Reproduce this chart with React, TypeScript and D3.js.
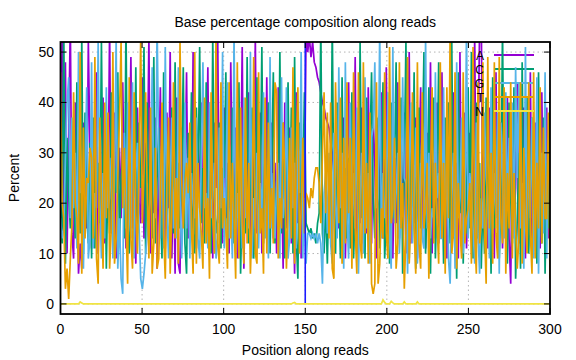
import React from "react";
import * as d3 from "d3";

// Base composition (percent) per read position
const A = [
  22,54,18,48,10,34,56,14,9,40,
  28,6,12,7,36,24,15,52,30,11,
  33,19,46,10,27,16,41,12,25,20,
  55,14,26,38,9,21,31,17,44,23,
  11,35,27,49,15,29,8,39,20,16,
  45,13,32,24,53,10,26,18,37,7,
  25,43,15,28,11,38,19,50,9,27,
  6,41,8,6,35,17,24,46,13,30,
  15,50,22,11,33,19,40,12,26,21,
  47,14,29,9,36,23,54,16,25,12,
  39,17,28,10,48,22,14,35,9,31,
  24,51,7,26,16,42,12,30,20,53,
  14,27,38,10,32,17,45,12,23,36,
  13,28,10,43,18,25,7,40,15,29,
  35,12,24,6,42,16,28,9,33,21,
  54,50,53,49,52,48,47,45,44,42,
  40,39,37,36,35,32,30,26,22,18,
  15,28,11,37,9,25,44,14,32,18,
  49,10,27,16,39,12,30,14,43,21,
  12,37,28,9,33,16,42,13,25,47,
  12,23,36,9,29,16,44,13,27,18,
  38,10,25,50,12,30,16,37,9,27,
  43,14,25,11,34,16,48,10,28,13,
  40,12,24,46,15,33,9,36,22,14,
  42,16,28,9,50,14,27,38,11,24,
  34,13,21,53,12,29,55,58,15,35,
  26,11,39,14,29,9,46,15,24,36,
  11,27,15,41,13,4,33,16,23,44,
  12,27,14,39,9,29,16,46,11,25,
  36,13,28,11,42,15,23,39,13,26,
];

const C = [
  20,12,55,8,33,22,15,31,24,13,
  44,27,14,53,10,38,18,12,32,9,
  37,11,24,28,16,52,19,33,7,26,
  14,42,16,27,22,46,12,25,29,13,
  56,15,10,21,31,18,47,14,36,23,
  29,51,10,40,16,28,13,49,12,25,
  35,19,9,46,21,15,33,11,39,14,
  48,18,28,15,26,47,12,6,34,21,
  42,14,10,39,23,51,16,27,12,44,
  17,33,10,53,21,14,17,36,11,27,
  25,46,10,30,15,39,12,28,17,44,
  6,21,36,14,49,12,25,39,9,17,
  45,15,23,51,12,29,19,40,10,27,
  46,12,23,15,50,14,36,9,29,44,
  15,39,10,49,13,5,36,19,23,42,
  16,15,14,15,13,14,12,16,18,56,
  14,10,20,8,24,14,56,18,10,40,
  23,9,45,15,27,13,29,11,42,9,
  19,36,13,52,17,26,9,41,15,30,
  46,21,13,26,37,11,23,44,9,17,
  32,8,40,17,26,48,13,23,41,6,
  28,52,15,9,34,18,46,7,26,39,
  15,30,50,10,21,43,6,28,41,9,
  23,48,13,28,8,37,17,40,12,52,
  13,26,5,46,18,34,8,30,14,43,
  15,50,9,23,40,13,28,7,21,10,
  41,17,30,6,45,15,23,34,9,19,
  55,15,29,8,40,21,12,43,5,17,
  30,7,48,15,25,41,10,23,37,16,
  30,8,46,19,12,37,6,28,15,42,
];

const G = [
  17,13,15,29,40,45,17,37,19,30,
  11,50,22,25,7,26,43,9,13,48,
  11,22,19,52,21,9,26,13,43,19,
  21,29,9,25,53,7,17,5,2,34,
  15,40,19,13,44,9,26,32,15,5,
  3,6,10,14,18,21,47,22,17,56,
  29,13,35,11,51,19,9,24,37,15,
  25,13,47,21,9,19,40,15,29,9,
  26,20,17,37,13,9,29,48,19,22,
  11,40,17,21,28,9,13,35,19,50,
  11,21,44,13,19,9,54,15,22,9,
  29,11,41,17,22,15,50,9,21,15,
  30,11,24,17,42,13,21,9,49,15,
  26,13,24,28,9,45,17,21,43,9,
  13,35,19,28,11,33,22,50,9,21,
  8,14,14,13,14,13,14,12,14,12,
  4,22,26,14,30,12,8,34,20,13,
  47,19,30,7,48,17,9,40,14,26,
  15,39,6,21,30,10,45,15,26,8,
  33,35,48,19,21,55,13,26,17,21,
  42,13,7,51,16,22,30,10,19,45,
  25,24,6,26,40,12,21,35,8,19,
  28,13,11,53,15,30,13,19,17,46,
  21,26,13,13,43,15,30,9,4,21,
  30,7,48,17,21,37,10,19,55,13,
  26,22,15,8,36,14,6,21,15,38,
  25,21,9,43,14,26,17,38,6,36,
  24,13,42,19,33,28,40,13,47,25,
  44,15,24,7,51,12,28,17,37,9,
  21,45,6,26,30,14,46,9,33,27,
];

const T = [
  46,20,17,3,7,1,9,16,42,20,
  17,8,50,6,35,13,25,24,31,29,
  13,49,9,4,37,21,7,40,17,38,
  7,15,50,8,13,25,37,52,19,31,
  16,4,45,13,7,42,18,10,28,53,
  16,26,42,21,9,39,6,12,31,7,
  9,21,40,14,5,25,37,6,19,44,
  13,25,8,52,25,15,24,28,22,36,
  15,6,50,8,28,19,14,7,41,12,
  21,5,42,17,10,54,12,8,44,15,
  21,15,7,44,13,28,17,5,48,9,
  39,16,8,41,12,28,6,17,49,10,
  8,46,14,19,6,41,10,36,15,23,
  12,44,42,9,21,15,36,26,7,18,
  33,13,47,8,30,43,10,19,33,14,
  22,21,19,23,21,25,27,27,24,16,
  30,42,18,38,13,40,7,5,44,26,
  16,41,8,33,12,44,18,33,7,46,
  15,6,46,12,9,48,14,28,8,38,
  4,2,4,44,4,8,19,13,46,14,
  9,51,16,19,33,7,12,48,15,24,
  3,14,49,8,17,42,15,6,48,12,
  7,42,15,19,28,5,24,43,12,28,
  16,8,48,13,28,6,43,17,54,10,
  14,46,7,24,15,9,46,12,17,19,
  24,8,51,14,6,44,12,16,48,15,
  4,49,15,30,8,48,14,9,49,17,
  12,43,6,26,15,44,9,26,15,7,
  13,44,8,31,16,10,44,14,6,46,
  9,28,15,43,12,35,17,17,38,5,
];

const N = [
  0,0,0,0,0,0,0,0,0,0,0,0,0.4,0.2,0,0,0,0,0,0,0,0,0,0,0,0,0,0,0,0,
  0,0,0,0,0,0,0,0,0,0,0,0,0,0,0,0,0,0,0,0,0,0,0,0,0,0,0,0,0,0,
  0,0,0,0,0,0,0,0,0,0,0,0,0,0,0,0,0,0,0,0,0,0,0,0,0,0,0,0,0,0,
  0,0,0,0,0,0,0,0,0,0,0,0,0,0,0,0,0,0,0,0,0,0,0,0,0,0,0,0,0,0,
  0,0,0,0,0,0,0,0,0,0,0,0,0,0,0,0,0,0,0,0,0,0,0.2,0.3,0,0,0,0,0,0,
  0,0,0,0,0,0,0,0,0,0,0,0,0,0,0,0,0,0,0,0,0,0,0,0,0,0,0,0,0,0,
  0,0,0,0,0,0,0,0,0,0,0,0,0,0,0,0,0,0.8,0.3,0,0,0,0.5,0.2,0,0,0,0,0,0,
  0.4,0,0,0,0,0,0,0,0.4,0,0,0,0,0,0,0,0,0,0,0,0,0,0,0,0,0,0,0,0,0,
  0,0,0,0,0,0,0,0,0,0,0,0,0,0,0,0,0,0,0,0,0,0,0,0,0,0,0,0,0,0,
  0,0,0,0,0,0,0,0,0,0,0,0,0,0,0,0,0,0,0,0,0,0,0,0,0,0,0,0,0,0,
];

const seriesNames = ["A", "C", "G", "T", "N"];
const seriesColors = ["#9400d3", "#009e73", "#56b4e9", "#e69f00", "#f0e442"];
const xTicks = [0, 50, 100, 150, 200, 250, 300];
const yTicks = [0, 10, 20, 30, 40, 50];
const xDomain = [0, 300];
const yDomain = [-2, 52];
const markerX = [150];
const markerY = [0, 52];

const FONT = "'Liberation Sans', Arial, Helvetica, sans-serif";

export default function App() {
  const W = 576, H = 360;
  const left = 60.5, right = 550, top = 42, bottom = 314;
  const x = d3.scaleLinear().domain(xDomain).range([left, right]);
  const y = d3.scaleLinear().domain(yDomain).range([bottom, top]);
  const series = [A, C, G, T, N];
  const n = A.length;
  const pos = (i: number) => (i * xDomain[1]) / (n - 1);
  const line = d3
    .line<number>()
    .x((_, i) => x(pos(i)))
    .y((d) => y(d));

  const keyTextX = 484;
  const keyLineX0 = 494, keyLineX1 = 534;
  const keyY0 = 55, keyDy = 14;
  const tick = 6;

  return (
    <svg
      width={W}
      height={H}
      viewBox={`0 0 ${W} ${H}`}
      style={{ position: "absolute", left: 0, top: 0, background: "#fff" }}
      fontFamily={FONT}
      fontSize={14}
    >
      <defs>
        <clipPath id="plotclip">
          <rect x={left} y={top} width={right - left} height={bottom - top} />
        </clipPath>
      </defs>
      <rect x={0} y={0} width={W} height={H} fill="#fff" />

      {/* grid */}
      <g stroke="#b4b4b4" strokeWidth={1} strokeDasharray="1.5,3">
        {xTicks.slice(1, -1).map((t) => (
          <line key={"gx" + t} x1={x(t)} x2={x(t)} y1={top} y2={bottom} />
        ))}
        {yTicks.map((t) => (
          <line key={"gy" + t} x1={left} x2={right} y1={y(t)} y2={y(t)} />
        ))}
      </g>

      {/* data + key samples */}
      <g clipPath="url(#plotclip)">
        {series.map((s, k) => (
          <g key={seriesNames[k]}>
            <line
              x1={keyLineX0}
              x2={keyLineX1}
              y1={keyY0 + k * keyDy}
              y2={keyY0 + k * keyDy}
              stroke={seriesColors[k]}
              strokeWidth={1.8}
            />
            {k === 4 &&
              markerX.map((m) => (
                <line
                  key={"m" + m}
                  x1={x(m)}
                  x2={x(m)}
                  y1={y(markerY[0])}
                  y2={y(markerY[1])}
                  stroke="#1a1aff"
                  strokeWidth={1.6}
                />
              ))}
            <path
              d={line(s) || ""}
              fill="none"
              stroke={seriesColors[k]}
              strokeWidth={1.7}
              strokeLinejoin="miter"
            />
          </g>
        ))}
      </g>

      {/* key labels */}
      <g fill="#000" fontSize={12} textAnchor="end">
        {seriesNames.map((name, k) => (
          <text key={"k" + name} x={keyTextX} y={keyY0 + k * keyDy + 4.5}>
            {name}
          </text>
        ))}
      </g>

      {/* ticks */}
      <g stroke="#000" strokeWidth={1}>
        {xTicks.map((t) => (
          <g key={"tx" + t}>
            <line x1={x(t)} x2={x(t)} y1={bottom} y2={bottom - tick} />
            <line x1={x(t)} x2={x(t)} y1={top} y2={top + tick} />
          </g>
        ))}
        {yTicks.map((t) => (
          <g key={"ty" + t}>
            <line x1={left} x2={left + tick} y1={y(t)} y2={y(t)} />
            <line x1={right} x2={right - tick} y1={y(t)} y2={y(t)} />
          </g>
        ))}
      </g>

      {/* border */}
      <rect
        x={left}
        y={top}
        width={right - left}
        height={bottom - top}
        fill="none"
        stroke="#000"
        strokeWidth={1.8}
      />

      {/* tick labels */}
      <g fill="#000">
        {xTicks.map((t) => (
          <text key={"lx" + t} x={x(t)} y={334} textAnchor="middle">
            {t}
          </text>
        ))}
        {yTicks.map((t) => (
          <text key={"ly" + t} x={54} y={y(t) + 5} textAnchor="end">
            {t}
          </text>
        ))}
      </g>

      {/* titles */}
      <text x={(left + right) / 2} y={27} textAnchor="middle" fill="#000">
        Base percentage composition along reads
      </text>
      <text x={(left + right) / 2} y={355} textAnchor="middle" fill="#000">
        Position along reads
      </text>
      <text
        transform={`translate(19, ${(top + bottom) / 2}) rotate(-90)`}
        textAnchor="middle"
        fill="#000"
      >
        Percent
      </text>
    </svg>
  );
}
